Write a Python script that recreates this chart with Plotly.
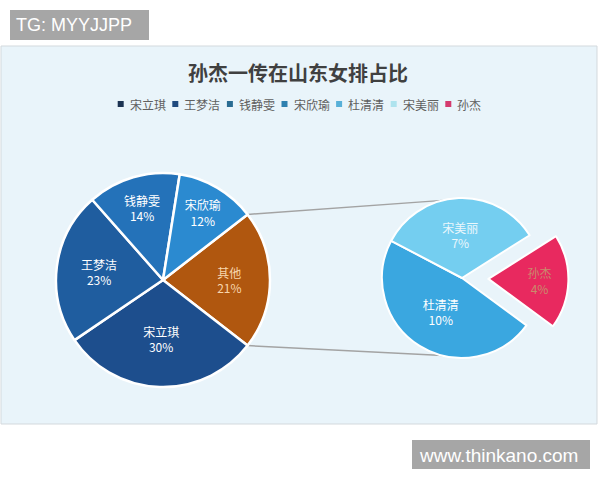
import math
import plotly.graph_objects as go

W, H = 600, 480

# ---------------- data ----------------
title_text = "孙杰一传在山东女排占比"

main_labels = ["其他", "宋立琪", "王梦洁", "钱静雯", "宋欣瑜"]
main_values = [21, 30, 23, 14, 12]

sub_labels = ["孙杰", "杜清清", "宋美丽"]
sub_values = [4, 10, 7]

legend_labels = ["宋立琪", "王梦洁", "钱静雯", "宋欣瑜", "杜清清", "宋美丽", "孙杰"]

watermark_top = "TG: MYYJJPP"
watermark_bottom = "www.thinkano.com"

# ---------------- styles ----------------
main_colors = ["#b0570f", "#1d4e8d", "#1f5d9f", "#2472b9", "#2b8ad0"]
main_text_colors = ["#f7d6ad", "white", "white", "white", "white"]
sub_colors = ["#e8295f", "#3aa7e0", "#74cef0"]
sub_text_colors = ["#c98b6c", "white", "#eaf7fc"]
legend_colors = ["#1c3352", "#1f4a7e", "#2a6c92", "#2e80b0", "#58b0d8", "#aee3ee", "#d43a6e"]

CJK = "Noto Sans CJK SC"
SANS = "Liberation Sans, Arial"


def px(x):
    return x / W


def py(y):
    return 1 - y / H


# geometry (pixels)
MC = (163, 280)
MR = 107
SC = (462, 278)
SR = 80
PULL = 0.33

fig = go.Figure()

# main pie
other_share = main_values[0] / sum(main_values) * 360
fig.add_trace(go.Pie(
    labels=main_labels,
    values=main_values,
    sort=False,
    direction="clockwise",
    rotation=90 - other_share / 2,
    marker=dict(colors=main_colors, line=dict(color="white", width=2.5)),
    texttemplate="%{label}<br>%{value}%",
    textposition="inside",
    insidetextorientation="horizontal",
    insidetextfont=dict(family=CJK, size=12, color=main_text_colors),
    showlegend=False,
    hoverinfo="label+value",
    domain=dict(x=[px(MC[0] - MR), px(MC[0] + MR)],
                y=[py(MC[1] + MR), py(MC[1] - MR)]),
))

# sub pie (breakdown of 其他)
sun_share = sub_values[0] / sum(sub_values) * 360
half = SR * (1 + PULL)
fig.add_trace(go.Pie(
    labels=sub_labels,
    values=sub_values,
    sort=False,
    direction="clockwise",
    rotation=92 - sun_share / 2,
    pull=[PULL, 0, 0],
    marker=dict(colors=sub_colors, line=dict(color="white", width=2)),
    texttemplate="%{label}<br>%{value}%",
    textposition="inside",
    insidetextorientation="horizontal",
    insidetextfont=dict(family=CJK, size=12, color=sub_text_colors),
    showlegend=False,
    hoverinfo="label+value",
    domain=dict(x=[px(SC[0] - half), px(SC[0] + half)],
                y=[py(SC[1] + half), py(SC[1] - half)]),
))

shapes = []
# panel
shapes.append(dict(type="rect", xref="paper", yref="paper",
                   x0=px(1), x1=px(597), y0=py(424), y1=py(46),
                   fillcolor="#e9f4fa", line=dict(color="#d3d9dd", width=1),
                   layer="below"))
# connectors
half_ang = math.radians(other_share / 2)
sub_ang = math.radians(104)
for s in (1, -1):
    x0 = MC[0] + MR * math.cos(half_ang)
    y0 = MC[1] - s * MR * math.sin(half_ang)
    x1 = SC[0] + SR * math.cos(sub_ang)
    y1 = SC[1] - s * SR * math.sin(sub_ang)
    shapes.append(dict(type="line", xref="paper", yref="paper",
                       x0=px(x0), y0=py(y0), x1=px(x1), y1=py(y1),
                       line=dict(color="#a3a3a3", width=1.5), layer="below"))

# watermark boxes
shapes.append(dict(type="rect", xref="paper", yref="paper",
                   x0=px(10), x1=px(149), y0=py(40), y1=py(10),
                   fillcolor="#a6a6a6", line=dict(width=0), layer="above"))
shapes.append(dict(type="rect", xref="paper", yref="paper",
                   x0=px(412), x1=px(590), y0=py(469), y1=py(440),
                   fillcolor="#a6a6a6", line=dict(width=0), layer="above"))

annotations = []
annotations.append(dict(text="<b>" + title_text + "</b>", xref="paper", yref="paper",
                        x=px(298), y=py(72), showarrow=False,
                        font=dict(family=CJK, size=20, color="#404040"),
                        xanchor="center", yanchor="middle"))

# legend (manual)
lx0 = 120.7
pitch = 54.6
ly = 104
for i, (lab, col) in enumerate(zip(legend_labels, legend_colors)):
    cx = lx0 + i * pitch
    shapes.append(dict(type="rect", xref="paper", yref="paper",
                       x0=px(cx - 3), x1=px(cx + 3), y0=py(ly + 3), y1=py(ly - 3),
                       fillcolor=col, line=dict(width=0)))
    annotations.append(dict(text=lab, xref="paper", yref="paper",
                            x=px(cx + 7), y=py(ly), showarrow=False,
                            xanchor="left", yanchor="middle",
                            font=dict(family=CJK, size=12, color="#606060")))

annotations.append(dict(text=watermark_top, xref="paper", yref="paper",
                        x=px(14), y=py(25.5), showarrow=False,
                        xanchor="left", yanchor="middle",
                        font=dict(family=SANS, size=18, color="white")))
annotations.append(dict(text=watermark_bottom, xref="paper", yref="paper",
                        x=px(417), y=py(455), showarrow=False,
                        xanchor="left", yanchor="middle",
                        font=dict(family=SANS, size=19, color="white")))

fig.update_layout(
    width=W, height=H,
    margin=dict(l=0, r=0, t=0, b=0),
    paper_bgcolor="white",
    plot_bgcolor="white",
    shapes=shapes,
    annotations=annotations,
    showlegend=False,
)

fig.write_html("out.html")
